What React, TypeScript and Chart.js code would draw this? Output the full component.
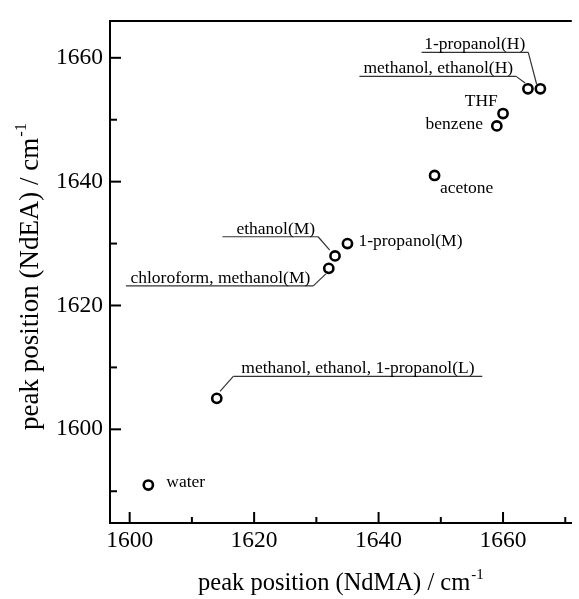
import { useEffect, useRef } from 'react';
import { Chart, registerables } from 'chart.js';

Chart.register(...registerables);

const FONT = "'Liberation Serif', 'Times New Roman', Times, serif";

// ---- data ----
const solventNames = [
  'water',
  'methanol, ethanol, 1-propanol(L)',
  'chloroform, methanol(M)',
  'ethanol(M)',
  '1-propanol(M)',
  'acetone',
  'benzene',
  'THF',
  'methanol, ethanol(H)',
  '1-propanol(H)',
];
const ndmaPeak = [1603, 1614, 1632, 1633, 1635, 1649, 1659, 1660, 1664, 1666];
const ndeaPeak = [1591, 1605, 1626, 1628, 1630, 1641, 1649, 1651, 1655, 1655];

const xMajorTicks = [1600, 1620, 1640, 1660];
const xMinorTicks = [1610, 1630, 1650, 1670];
const yMajorTicks = [1600, 1620, 1640, 1660];
const yMinorTicks = [1590, 1610, 1630, 1650];

const xTitle = 'peak position (NdMA) / cm';
const yTitle = 'peak position (NdEA) / cm';
const unitSup = '-1';

// ---- axis ranges ----
const X_MIN = 1596.84;
const X_MAX = 1671.05;
const Y_MIN = 1584.87;
const Y_MAX = 1665.93;

// ---- label layout (pixel offsets relative to each point) ----
type Lay =
  | { kind: 'plain'; dx: number; dy: number; align: 'left' | 'right' }
  | { kind: 'leader'; align: 'left' | 'right'; lineY: number; x0: number; x1: number; from: [number, number] };

const labelLayout: Lay[] = [
  { kind: 'plain', dx: 18, dy: -3, align: 'left' },
  { kind: 'leader', align: 'left', lineY: -21.9, x0: 16.5, x1: 265.5, from: [3.2, -6.9] },
  { kind: 'leader', align: 'right', lineY: 17.6, x0: -202.9, x1: -15.5, from: [-2.9, 5.6] },
  { kind: 'leader', align: 'right', lineY: -19.2, x0: -112.6, x1: -16.9, from: [-5.3, -5.8] },
  { kind: 'plain', dx: 11, dy: -2, align: 'left' },
  { kind: 'plain', dx: 5.3, dy: 12.6, align: 'left' },
  { kind: 'plain', dx: -13.9, dy: -1.4, align: 'right' },
  { kind: 'plain', dx: -5.2, dy: -12.2, align: 'right' },
  { kind: 'leader', align: 'right', lineY: -12.4, x0: -168.5, x1: -11.8, from: [-2.8, -5.8] },
  { kind: 'leader', align: 'right', lineY: -36.4, x0: -118.8, x1: -12.1, from: [-3.8, -4.8] },
];

function drawRichTitle(ctx: CanvasRenderingContext2D, main: string, sup: string, size: number, supSize: number, raise: number) {
  ctx.font = `${size}px ${FONT}`;
  const wMain = ctx.measureText(main).width;
  ctx.font = `${supSize}px ${FONT}`;
  const wSup = ctx.measureText(sup).width;
  const total = wMain + 1 + wSup;
  const start = -total / 2;
  ctx.textAlign = 'left';
  ctx.textBaseline = 'alphabetic';
  ctx.font = `${size}px ${FONT}`;
  ctx.fillText(main, start, 0);
  ctx.font = `${supSize}px ${FONT}`;
  ctx.fillText(sup, start + wMain + 1, -raise);
}

const decor = {
  id: 'decor',
  afterDatasetsDraw(chart: any) {
    const { ctx, chartArea: a, scales } = chart;
    const x = scales.x;
    const y = scales.y;
    ctx.save();
    ctx.strokeStyle = '#000';
    ctx.lineWidth = 2;
    ctx.beginPath();
    ctx.moveTo(a.left - 1, a.top);
    ctx.lineTo(a.right, a.top);
    ctx.stroke();

    const tick = (px: number, py: number, dx: number, dy: number) => {
      ctx.beginPath();
      ctx.moveTo(px, py);
      ctx.lineTo(px + dx, py + dy);
      ctx.stroke();
    };
    xMajorTicks.forEach((v) => tick(x.getPixelForValue(v), a.bottom, 0, -11));
    xMinorTicks.forEach((v) => tick(x.getPixelForValue(v), a.bottom, 0, -6));
    yMajorTicks.forEach((v) => tick(a.left, y.getPixelForValue(v), 11, 0));
    yMinorTicks.forEach((v) => tick(a.left, y.getPixelForValue(v), 7, 0));

    ctx.font = `17.5px ${FONT}`;
    ctx.fillStyle = '#000';
    solventNames.forEach((name, i) => {
      const px = x.getPixelForValue(ndmaPeak[i]);
      const py = y.getPixelForValue(ndeaPeak[i]);
      const L = labelLayout[i];
      if (L.kind === 'plain') {
        ctx.textAlign = L.align;
        ctx.textBaseline = 'middle';
        ctx.fillText(name, px + L.dx, py + L.dy);
      } else {
        const ly = py + L.lineY;
        ctx.strokeStyle = '#333';
        ctx.lineWidth = 1.2;
        ctx.beginPath();
        ctx.moveTo(px + L.x0, ly);
        ctx.lineTo(px + L.x1, ly);
        ctx.stroke();
        const jx = L.align === 'left' ? px + L.x0 : px + L.x1;
        ctx.beginPath();
        ctx.moveTo(jx, ly);
        ctx.lineTo(px + L.from[0], py + L.from[1]);
        ctx.stroke();
        ctx.textAlign = L.align;
        ctx.textBaseline = 'alphabetic';
        const tx = L.align === 'left' ? px + L.x0 + 8 : px + L.x1 - 3;
        ctx.fillText(name, tx, ly - 3);
      }
    });
    ctx.restore();
  },
  afterDraw(chart: any) {
    const { ctx, chartArea: a } = chart;
    ctx.save();
    ctx.fillStyle = '#000';
    ctx.translate((a.left + a.right) / 2, 590);
    drawRichTitle(ctx, xTitle, unitSup, 24.5, 15, 11);
    ctx.restore();

    ctx.save();
    ctx.fillStyle = '#000';
    ctx.translate(38, 276.5);
    ctx.rotate(-Math.PI / 2);
    drawRichTitle(ctx, yTitle, unitSup, 27, 16.5, 12);
    ctx.restore();
  },
};

export default function App() {
  const ref = useRef<HTMLCanvasElement>(null);
  useEffect(() => {
    const canvas = ref.current;
    if (!canvas) return;
    const chart = new Chart(canvas, {
      type: 'scatter',
      data: {
        datasets: [
          {
            data: ndmaPeak.map((v, i) => ({ x: v, y: ndeaPeak[i] })),
            pointStyle: 'circle',
            pointRadius: 4.6,
            pointBorderWidth: 2.6,
            pointBorderColor: '#000',
            pointBackgroundColor: '#fff',
            showLine: false,
          } as any,
        ],
      },
      options: {
        responsive: false,
        animation: false,
        layout: { padding: { top: 14.5, right: 0, left: 0, bottom: 0 } },
        plugins: { legend: { display: false }, tooltip: { enabled: false } },
        scales: {
          x: {
            type: 'linear',
            position: 'bottom',
            min: X_MIN,
            max: X_MAX,
            afterBuildTicks: (s: any) => {
              s.ticks = xMajorTicks.map((v) => ({ value: v }));
            },
            afterFit: (s: any) => {
              s.height = 76;
            },
            grid: { display: false, drawTicks: false },
            border: { display: true, color: '#000', width: 2 },
            ticks: {
              font: { family: FONT, size: 23.5 },
              color: '#000',
              padding: 4,
              maxRotation: 0,
              autoSkip: false,
              callback: (v: any) => String(v),
            },
          },
          y: {
            type: 'linear',
            position: 'left',
            min: Y_MIN,
            max: Y_MAX,
            afterBuildTicks: (s: any) => {
              s.ticks = yMajorTicks.map((v) => ({ value: v }));
            },
            afterFit: (s: any) => {
              s.width = 110;
            },
            grid: { display: false, drawTicks: false },
            border: { display: true, color: '#000', width: 2 },
            ticks: {
              font: { family: FONT, size: 23.5 },
              color: '#000',
              padding: 7,
              autoSkip: false,
              callback: (v: any) => String(v),
            },
          },
        },
      } as any,
      plugins: [decor],
    });
    return () => chart.destroy();
  }, []);
  return (
    <div style={{ position: 'fixed', left: 0, top: 0, width: 579, height: 599, background: '#fff' }}>
      <canvas ref={ref} width={579} height={599} style={{ display: 'block' }} />
    </div>
  );
}
